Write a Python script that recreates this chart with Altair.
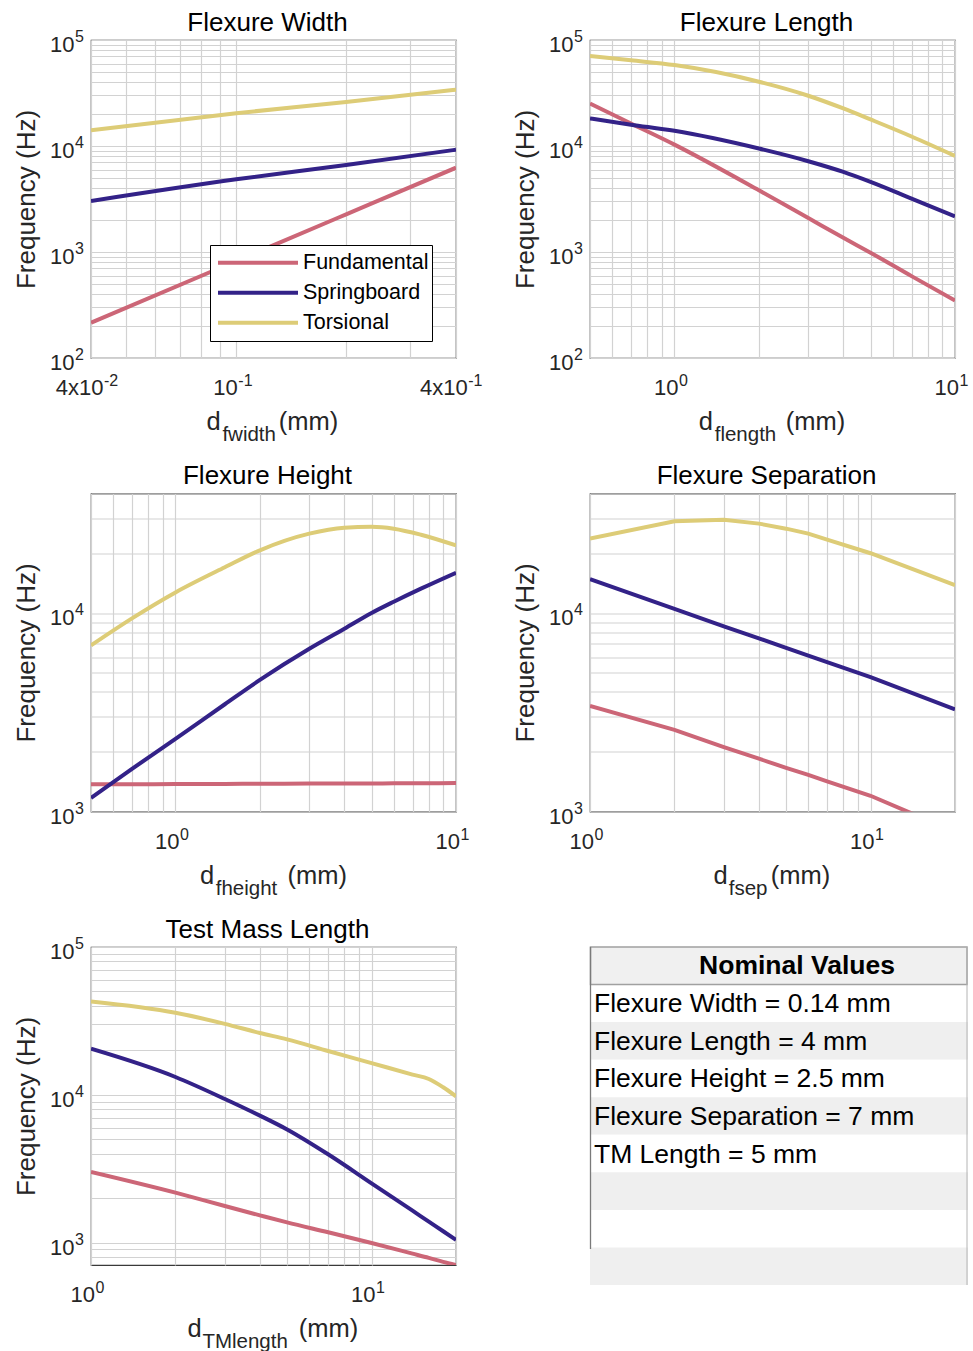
import altair as alt
import pandas as pd

SERIES = ["Fundamental", "Springboard", "Torsional"]
COLORS = ["#CC6677", "#332288", "#DDCC77"]

# ---- Flexure Width ----
fw_x = [0.04, 0.1, 0.2, 0.4]
fw_fund = [215, 822, 2265, 6240]
fw_spring = [3030, 4850, 6610, 9230]
fw_tors = [14060, 20400, 26000, 33960]

# ---- Flexure Length ----
fl_x = [0.5, 0.7, 1, 2, 3, 4, 5, 7, 10]
fl_fund = [25200, 16300, 10300, 3820, 2090, 1360, 985, 592, 348]
fl_spring = [18200, 15900, 13900, 9460, 7180, 5690, 4580, 3190, 2170]
fl_tors = [70600, 64300, 58000, 40400, 29800, 22600, 17800, 12300, 8060]

# ---- Flexure Height ----
fh_x = [0.5, 0.7, 1, 1.5, 2, 3, 4, 5, 6, 7.5, 10]
fh_fund = [1370, 1372, 1375, 1377, 1380, 1382, 1384, 1385, 1386, 1388, 1390]
fh_spring = [1170, 1640, 2320, 3470, 4600, 6600, 8330, 10000, 11400, 13270, 15960]
fh_tors = [6870, 9400, 12700, 17000, 20700, 25100, 26900, 27200, 26600, 24800, 21900]

# ---- Flexure Separation ----
fs_x = [1, 2, 3, 4, 5, 6, 7, 10, 20]
fs_fund = [3400, 2580, 2110, 1845, 1660, 1530, 1420, 1200, 790]
fs_spring = [14800, 10500, 8570, 7450, 6670, 6100, 5660, 4750, 3270]
fs_tors = [23700, 29000, 29500, 28200, 26600, 25100, 23400, 20000, 13800]

# ---- Test Mass Length ----
tm_x = [1, 2, 3, 4, 5, 7, 10, 14, 16, 18, 20]
tm_fund = [3010, 2180, 1770, 1530, 1370, 1175, 995, 843, 789, 741, 706]
tm_spring = [20500, 13200, 9370, 7230, 5830, 3960, 2520, 1645, 1387, 1194, 1043]
tm_tors = [42800, 35900, 30200, 26200, 23700, 19800, 16400, 13700, 12800, 11250, 9770]

# ---- Table ----
tbl_header = "Nominal Values"
tbl_rows = ["Flexure Width = 0.14 mm", "Flexure Length = 4 mm",
            "Flexure Height = 2.5 mm", "Flexure Separation = 7 mm",
            "TM Length = 5 mm", "", "", ""]

# tick labels: (value, base, superscript, offset of base's right edge from tick)
Y_TICKS = [(100, "10", "2"), (1000, "10", "3"), (10000, "10", "4"), (100000, "10", "5")]
X_TICKS_W = [(0.04, "4x10", "-2", 12.5), (0.1, "10", "-1", 1.6), (0.4, "4x10", "-1", 11.7)]
X_TICKS = [(1, "10", "0", 4), (10, "10", "1", 4)]

W, H = 365, 318
FONT = "Liberation Sans"
TXT = "#262626"
BASE_FS, SUP_FS = 22, 16


def grid_vals(lo, hi):
    vals = []
    for k in range(-3, 6):
        for m in range(1, 10):
            v = m * 10.0 ** k
            if lo * 0.9999 <= v <= hi * 1.0001:
                vals.append(float(f"{v:.6g}"))
    return vals


one = pd.DataFrame({"a": [0]})


def txt(text, x, y, size, align="left", weight="normal", color=TXT):
    return alt.Chart(one).mark_text(
        text=text, align=align, baseline="alphabetic", fontSize=size,
        fontWeight=weight, color=color, font=FONT
    ).encode(x=alt.value(x), y=alt.value(y))


def panel(xs, fund, spring, tors, xdom, ydom, xticks, title, sub, pos,
          legend=False, interp="monotone"):
    n = len(xs)
    df = pd.DataFrame({
        "x": list(xs) * 3,
        "y": list(fund) + list(spring) + list(tors),
        "series": ["Fundamental"] * n + ["Springboard"] * n + ["Torsional"] * n,
    })
    cscale = alt.Scale(domain=SERIES, range=COLORS)
    if legend:
        leg = alt.Legend(
            orient="none", legendX=119, legendY=205, title=None,
            symbolType="stroke", symbolSize=6400, symbolStrokeWidth=4,
            clipHeight=29.5, labelFontSize=21.5, labelFont=FONT, labelColor="black",
            labelOffset=3, symbolOffset=3, padding=3, rowPadding=0,
            strokeColor="black", fillColor="white",
        )
        color = alt.Color("series:N", legend=leg, scale=cscale)
    else:
        color = alt.Color("series:N", legend=None, scale=cscale)

    xs_scale = alt.Scale(type="log", domain=list(xdom), nice=False)
    ys_scale = alt.Scale(type="log", domain=list(ydom), nice=False)

    xaxis = alt.Axis(
        values=grid_vals(*xdom), labels=False, grid=True,
        ticks=False, domain=False, title=None,
    )
    yaxis = alt.Axis(
        values=grid_vals(*ydom), labels=False, grid=True,
        ticks=False, domain=False, title="Frequency (Hz)", titleX=-57,
        titleY=H / 2, titleAngle=270, titleAlign="center",
        titleBaseline="alphabetic", titleFontSize=26, titleFontWeight="normal",
        titleColor=TXT, titleFont=FONT,
    )
    lines = alt.Chart(df).mark_line(strokeWidth=4, clip=True, interpolate=interp).encode(
        x=alt.X("x:Q", scale=xs_scale, axis=xaxis),
        y=alt.Y("y:Q", scale=ys_scale, axis=yaxis),
        color=color,
    )
    layers = [lines]

    # y tick labels: "10" + superscript exponent
    yl = [t for t in Y_TICKS if ydom[0] * 0.9999 <= t[0] <= ydom[1] * 1.0001]
    ydf = pd.DataFrame({"y": [t[0] for t in yl], "base": [t[1] for t in yl],
                        "sup": [t[2] for t in yl]})
    layers.append(alt.Chart(ydf).mark_text(
        align="right", baseline="alphabetic", fontSize=BASE_FS, color=TXT,
        font=FONT, dy=12).encode(
        y=alt.Y("y:Q", scale=ys_scale), x=alt.value(-16.5), text="base:N"))
    layers.append(alt.Chart(ydf).mark_text(
        align="left", baseline="alphabetic", fontSize=SUP_FS, color=TXT,
        font=FONT, dy=2.3).encode(
        y=alt.Y("y:Q", scale=ys_scale), x=alt.value(-16), text="sup:N"))

    # x tick labels
    for v, base, sup, off in xticks:
        xdf = pd.DataFrame({"x": [v], "base": [base], "sup": [sup]})
        layers.append(alt.Chart(xdf).mark_text(
            align="right", baseline="alphabetic", fontSize=BASE_FS, color=TXT,
            font=FONT, dx=off).encode(
            x=alt.X("x:Q", scale=xs_scale), y=alt.value(H + 37), text="base:N"))
        layers.append(alt.Chart(xdf).mark_text(
            align="left", baseline="alphabetic", fontSize=SUP_FS, color=TXT,
            font=FONT, dx=off + 0.5).encode(
            x=alt.X("x:Q", scale=xs_scale), y=alt.value(H + 28), text="sup:N"))

    dx, sx, mx = pos
    layers += [
        txt(title, W / 2 - 6, -9.5, 26, align="center", color="black"),
        txt("d", dx, H + 72, 25.5),
        txt(sub, sx, H + 83, 20.5),
        txt("(mm)", mx, H + 72, 25.5),
    ]
    return alt.layer(*layers).properties(width=W, height=H)


p1 = panel(fw_x, fw_fund, fw_spring, fw_tors, (0.04, 0.4), (100, 100000),
           X_TICKS_W, "Flexure Width", "fwidth", (115.4, 131.4, 187.7), legend=True)
p2 = panel(fl_x, fl_fund, fl_spring, fl_tors, (0.5, 10), (100, 100000),
           X_TICKS, "Flexure Length", "flength", (108.7, 124.7, 195.7))
p3 = panel(fh_x, fh_fund, fh_spring, fh_tors, (0.5, 10), (1000, 40000),
           X_TICKS, "Flexure Height", "fheight", (109, 124.7, 196.4))
p4 = panel(fs_x, fs_fund, fs_spring, fs_tors, (1, 20), (1000, 40000),
           X_TICKS, "Flexure Separation", "fsep", (123.4, 138.7, 180.7),
           interp="linear")
p5 = panel(tm_x, tm_fund, tm_spring, tm_tors, (1, 20), (706, 100000),
           X_TICKS, "Test Mass Length", "TMlength", (96.4, 111.4, 207.7))

# ---- table panel ----
TW, TH = 378, 338
labels = [tbl_header] + tbl_rows
tdf = pd.DataFrame({
    "row": list(range(len(labels))),
    "label": labels,
    "shade": ["head"] + ["white", "gray"] * (len(tbl_rows) // 2),
})
ry = alt.Y("row:O", axis=None, scale=alt.Scale(paddingInner=0, paddingOuter=0))
rects = alt.Chart(tdf).mark_rect().encode(
    y=ry, x=alt.value(0), x2=alt.value(TW),
    fill=alt.Fill("shade:N", legend=None,
                  scale=alt.Scale(domain=["head", "white", "gray"],
                                  range=["#f0f0f0", "#ffffff", "#efefef"])),
)
head_box = alt.Chart(tdf).transform_filter("datum.row == 0").mark_rect(
    fill="#f0f0f0", stroke="#a0a0a0", strokeWidth=1.5
).encode(y=ry, x=alt.value(0.5), x2=alt.value(TW - 1))
head_txt = alt.Chart(tdf).transform_filter("datum.row == 0").mark_text(
    align="center", baseline="middle", fontSize=26.5, fontWeight="bold",
    color="black", font=FONT
).encode(y=ry, x=alt.value(207), text="label:N")
body_txt = alt.Chart(tdf).transform_filter("datum.row > 0").mark_text(
    align="left", baseline="middle", fontSize=26.5, color="black", font=FONT, dy=1
).encode(y=ry, x=alt.value(4), text="label:N")
left_rule = alt.Chart(one).mark_rule(color="#7a7a7a", strokeWidth=1.3).encode(
    x=alt.value(0.5), y=alt.value(0), y2=alt.value(TH - 36))
right_rule = alt.Chart(one).mark_rule(color="#b4b4b4", strokeWidth=1).encode(
    x=alt.value(TW - 1), y=alt.value(0), y2=alt.value(TH))
table = alt.layer(rects, head_box, left_rule, right_rule, head_txt, body_txt).properties(
    width=TW, height=TH, view=alt.ViewBackground(strokeWidth=0)
)

chart = alt.concat(
    p1, p2, p3, p4, p5, table, columns=2,
    spacing={"row": 135.5, "column": 134}, bounds="flush",
).resolve_scale(
    color="independent", fill="independent", x="independent", y="independent"
).resolve_legend(color="independent", fill="independent").properties(
    padding={"left": 12, "top": 8, "right": 0, "bottom": 0}, background="white"
).configure(font=FONT).configure_view(
    stroke="#3a3a3a", strokeWidth=1.2
).configure_axis(
    gridColor="#d2d2d2", gridWidth=1.2, gridOpacity=1
)

chart.save("out.html", embed_options={"renderer": "svg", "actions": False})
